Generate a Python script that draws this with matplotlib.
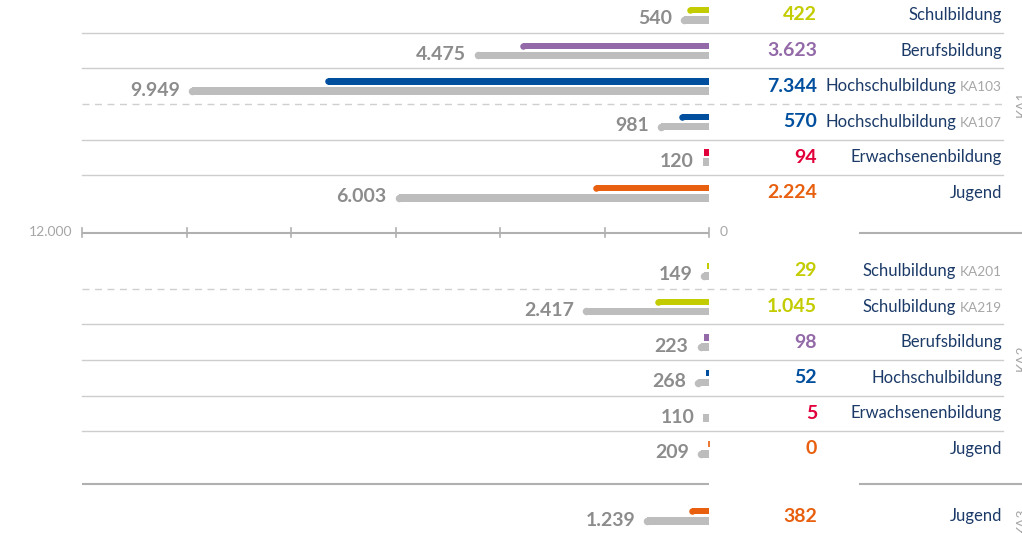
import matplotlib
matplotlib.use("Agg")
import matplotlib.pyplot as plt
from matplotlib.transforms import offset_copy

# ---------------- data ----------------
groups = ["KA1", "KA2", "KA3"]
cat_ka1 = ["Schulbildung", "Berufsbildung", "Hochschulbildung", "Hochschulbildung", "Erwachsenenbildung", "Jugend"]
sub_ka1 = ["", "", "KA103", "KA107", "", ""]
val_ka1 = [422, 3623, 7344, 570, 94, 2224]
gray_ka1 = [540, 4475, 9949, 981, 120, 6003]

cat_ka2 = ["Schulbildung", "Schulbildung", "Berufsbildung", "Hochschulbildung", "Erwachsenenbildung", "Jugend"]
sub_ka2 = ["KA201", "KA219", "", "", "", ""]
val_ka2 = [29, 1045, 98, 52, 5, 0]
gray_ka2 = [149, 2417, 223, 268, 110, 209]

cat_ka3 = ["Jugend"]
sub_ka3 = [""]
val_ka3 = [382]
gray_ka3 = [1239]

axis_ticks = [0, 2000, 4000, 6000, 8000, 10000, 12000]

# ---------------- styles ----------------
col_map = {
    "Schulbildung": "#c3cc00",
    "Berufsbildung": "#9369a8",
    "Hochschulbildung": "#004f9e",
    "Erwachsenenbildung": "#e2003b",
    "Jugend": "#e8600f",
}
GRAY_BAR = "#bdbdbd"
GRAY_TXT = "#8c8c8c"
NAVY = "#1b3a68"
LIGHT = "#a6a6a6"

W, H = 1022, 533
plt.rcParams["font.family"] = ["Lato", "DejaVu Sans"]
fig = plt.figure(figsize=(W / 100, H / 100), dpi=100)
ax = fig.add_axes([0, 0, 1, 1])
ax.set_axis_off()

# horizontal scale: 12000 spans pixel 82 -> 709
x0_px, xmax_px = 709, 82
upp = 12000 / (x0_px - xmax_px)          # data units per pixel
ax.set_xlim(x0_px * upp, -(W - x0_px) * upp)  # inverted: values grow to the left
ax.set_ylim(H, 0)

def fx(px):
    return px / W

yt = ax.get_yaxis_transform()  # x axes-fraction, y data

# row layout
step = 35.6
rows1 = [15 + i * step for i in range(6)]
rows2 = [271 + i * step for i in range(6)]
rows3 = [516]

bh_col, bh_gray = 6.5, 7.5
r_px = 3.2
r_data = r_px * upp

def draw_bar(v, yc, color, h):
    if v <= 0:
        ax.plot([0, 0], [yc - h / 2, yc + h / 2], color=color, lw=1.2, solid_capstyle="butt")
        return
    if v > 2 * r_data:
        ax.barh(yc, v - r_data, left=0, height=h, color=color, lw=0)
        ax.plot([v - r_data], [yc], marker="o", ms=h * 0.72, color=color, mew=0)
    else:
        ax.barh(yc, v, left=0, height=h, color=color, lw=0)

def fmt(v):
    return f"{v:,}".replace(",", ".")

fig.canvas.draw()
renderer = fig.canvas.get_renderer()

def draw_rows(rows, cats, subs, vals, grays):
    for y, c, s, v, g in zip(rows, cats, subs, vals, grays):
        col = col_map[c]
        draw_bar(v, y - 4.8, col, bh_col)
        draw_bar(g, y + 4.8, GRAY_BAR, bh_gray)
        ax.annotate(fmt(g), xy=(g, y + 4.0), xytext=(-9, 0), textcoords="offset pixels",
                    ha="right", va="center", fontsize=14, fontweight="bold", color=GRAY_TXT)
        ax.text(fx(817), y, fmt(v), transform=yt, ha="right", va="center",
                fontsize=14, fontweight="bold", color=col)
        xr = fx(1002)
        if s:
            t = ax.text(xr, y + 1, s, transform=yt, ha="right", va="center",
                        fontsize=9.8, color=LIGHT)
            bb = t.get_window_extent(renderer)
            ax.text(fx(bb.x0 - 4), y, c, transform=yt, ha="right", va="center",
                    fontsize=12, color=NAVY)
        else:
            ax.text(xr, y, c, transform=yt, ha="right", va="center",
                    fontsize=12, color=NAVY)

draw_rows(rows1, cat_ka1, sub_ka1, val_ka1, gray_ka1)
draw_rows(rows2, cat_ka2, sub_ka2, val_ka2, gray_ka2)
draw_rows(rows3, cat_ka3, sub_ka3, val_ka3, gray_ka3)

# separators
def sep(rows, dashed_after=None):
    for i in range(len(rows) - 1):
        ym = (rows[i] + rows[i + 1]) / 2
        if dashed_after is not None and i == dashed_after:
            ax.axhline(ym, xmin=fx(82), xmax=fx(1003), color="#cfcfcf", lw=1.0, ls=(0, (5, 4)))
        else:
            ax.axhline(ym, xmin=fx(82), xmax=fx(1003), color="#cdcdcd", lw=1.0)

sep(rows1, dashed_after=2)
sep(rows2, dashed_after=0)

# axis line with ticks
y_axis = 232.5
ax.plot([0, 12000], [y_axis, y_axis], color="#b0b0b0", lw=1.5, solid_capstyle="butt")
for t in axis_ticks:
    ax.plot([t, t], [y_axis - 4.5, y_axis + 4.5], color="#b0b0b0", lw=1.2)
ax.text(12000, y_axis, "12.000", ha="right", va="center", fontsize=10, color=LIGHT,
        transform=offset_copy(ax.transData, fig=fig, x=-10, y=0, units="dots"))
ax.text(0, y_axis, "0", ha="left", va="center", fontsize=10, color=LIGHT,
        transform=offset_copy(ax.transData, fig=fig, x=11, y=0, units="dots"))
ax.axhline(y_axis, xmin=fx(860), xmax=1, color="#b0b0b0", lw=1.5)

# bottom separator before KA3
y_bot = 484
ax.plot([0, 12000], [y_bot, y_bot], color="#b0b0b0", lw=1.5, solid_capstyle="butt")
ax.axhline(y_bot, xmin=fx(860), xmax=1, color="#b0b0b0", lw=1.5)

# rotated group labels (partly cut off at the right edge, as in the reference)
for g, yc in zip(groups, [(rows1[0] + rows1[-1]) / 2, (rows2[0] + rows2[-1]) / 2 - 2, rows3[0] + 5]):
    ax.text(fx(1016), yc, g, transform=yt, rotation=90, ha="left", va="center",
            fontsize=10, color=LIGHT)

fig.savefig("out.png", dpi=100)
